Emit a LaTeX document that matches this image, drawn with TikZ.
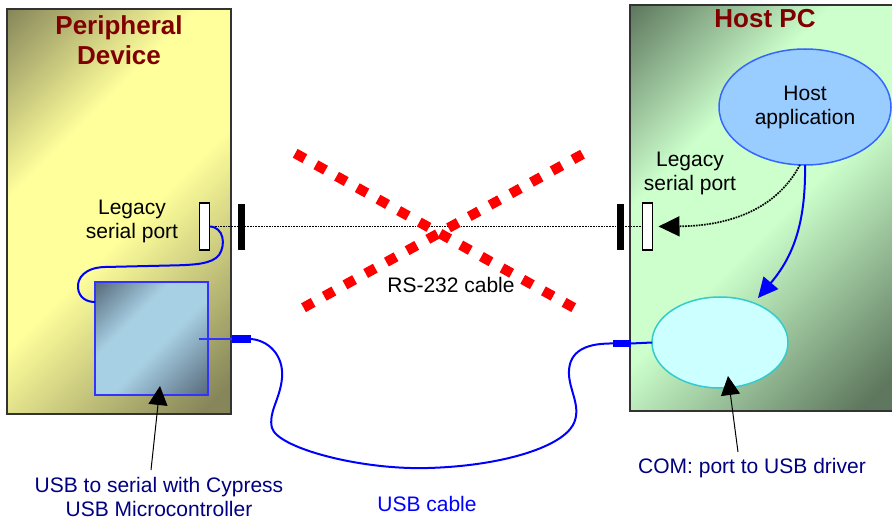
\documentclass[tikz,border=0pt]{standalone}
\usepackage{fontspec}
\setmainfont{Liberation Sans}
\usetikzlibrary{arrows.meta,shapes.geometric}

\definecolor{pdark}{HTML}{86865A}
\definecolor{plight}{HTML}{FFFF9C}
\definecolor{hdark}{HTML}{5E775E}
\definecolor{hlight}{HTML}{CCFFCC}
\definecolor{mdark}{HTML}{56697A}
\definecolor{mlight}{HTML}{A8D0E4}
\definecolor{titlered}{HTML}{800000}
\definecolor{navy}{HTML}{000080}
\definecolor{appfill}{HTML}{99CCFF}
\definecolor{appdraw}{HTML}{3366FF}
\definecolor{drvfill}{HTML}{CCFFFF}
\definecolor{drvdraw}{HTML}{33CCCC}
\definecolor{microdraw}{HTML}{3333FF}

\pgfdeclarehorizontalshading{periphsh}{100bp}{color(0bp)=(pdark); color(14.6bp)=(pdark); color(36bp)=(plight); color(53bp)=(plight); color(82bp)=(pdark); color(100bp)=(pdark)}
\pgfdeclarehorizontalshading{hostsh}{100bp}{color(0bp)=(hdark); color(14.6bp)=(hdark); color(36bp)=(hlight); color(53bp)=(hlight); color(82bp)=(hdark); color(100bp)=(hdark)}
\pgfdeclarehorizontalshading{microsh}{100bp}{color(0bp)=(mdark); color(14.6bp)=(mdark); color(38bp)=(mlight); color(55bp)=(mlight); color(85.4bp)=(mdark); color(100bp)=(mdark)}

\begin{document}
\begin{tikzpicture}[x=1pt,y=-1pt,
  every node/.style={inner sep=0pt, outer sep=0pt},
  normaltext/.style={font=\fontsize{21}{24}\selectfont, align=center},
  titletext/.style={font=\bfseries\fontsize{26}{30}\selectfont, align=center, text=titlered},
  portbox/.style={draw=black, fill=white, line width=1.3pt, minimum width=10pt, minimum height=47pt},
  blackbar/.style={fill=black, minimum width=7pt, minimum height=46pt},
  usbplug/.style={fill=blue, minimum width=19pt, minimum height=7.5pt},
  wire/.style={blue, line width=2pt},
  dotline/.style={densely dotted, line width=1.7pt},
  redx/.style={red, line width=10pt, dash pattern=on 11pt off 12.65pt},
  lblarrow/.style={-{Triangle[length=19pt,width=19pt]}, line width=1pt},
  boxborder/.style={draw=black!80, line width=1.5pt}
]
\useasboundingbox (0,0) rectangle (892,521);

% Peripheral device box
\node[shade, shading=periphsh, shading angle=-45, boxborder,
      minimum width=224pt, minimum height=405pt] (periph) at (119,211.5) {};
% Host PC box (open on the right)
\node[shade, shading=hostsh, shading angle=-45,
      minimum width=262pt, minimum height=406pt] (host) at (761,208) {};
\draw[boxborder] (host.north east) -- (host.north west) -- (host.south west) -- (host.south east);

% Microcontroller square
\node[shade, shading=microsh, shading angle=-45, draw=microdraw, line width=1.2pt,
      minimum width=113pt, minimum height=113pt] (micro) at (151.5,338.5) {};

% ports and bars
\node[portbox] (lport) at (204.5,226.5) {};
\node[portbox] (rport) at (647.5,226.5) {};
\draw[dotline] (lport.east) -- (rport.west);
\node[blackbar] (lbar) at (241,227) {};
\node[blackbar] (rbar) at (620.5,227) {};

% wire inside peripheral
\coordinate (mwire) at (95,302);
\draw[wire] (lport.east) .. controls (224,227) and (226,245) .. (219,255)
  .. controls (212,264) and (195,265) .. (170,265.5) -- (105,267)
  .. controls (85,267.5) and (77,278) .. (78,288)
  .. controls (79,298) and (87,302) .. (mwire);

% USB plugs and cable
\node[usbplug] (lplug) at (241,339) {};
\node[usbplug, minimum width=18pt, minimum height=7pt] (rplug) at (622,343.5) {};
\coordinate (lwire) at (199,339);
\draw[blue!80, line width=2pt] (lwire) -- (lplug.west);

% Ellipses
\node[ellipse, draw=appdraw, fill=appfill, line width=1.5pt, normaltext,
      minimum width=172pt, minimum height=116pt] (app) at (805,107) {Host\\application};
\node[ellipse, draw=drvdraw, fill=drvfill, line width=1.5pt,
      minimum width=136pt, minimum height=91pt] (drv) at (720,342.5) {};
\draw[wire] (rplug.east) -- (drv.west);

\draw[wire] (lplug.east) .. controls (268,340) and (284,355) .. (282,378)
  .. controls (280,400) and (268,412) .. (272,428)
  .. controls (278,448) and (360,470) .. (428,468)
  .. controls (500,466) and (560,448) .. (573,425)
  .. controls (582,408) and (570,392) .. (569,375)
  .. controls (568,355) and (580,343) .. (rplug.west);

% Red crossed-out X
\coordinate (xa1) at (295.2,153.3);
\coordinate (xa2) at (573.8,307.7);
\coordinate (xb1) at (303.5,307.7);
\coordinate (xb2) at (584.1,153.3);
\draw[redx] (xa1) -- (xa2);
\draw[redx] (xb1) -- (xb2);

% Arrows inside Host PC
\draw[dotline, -{Triangle[length=21pt,width=20pt]}, shorten >=6pt]
  (app.265) .. controls (775,212) and (725,226) .. (rport.east);
\coordinate (btip) at (758,298);
\draw[blue, line width=2pt, -{Triangle[length=20pt,width=19pt]}]
  (app.south) .. controls (806,225) and (792,258) .. (btip);

% Texts
\node[titletext] (ptitle) at (119,40.5) {Peripheral\\Device};
\node[titletext, anchor=base] (htitle) at (765,28) {Host PC};
\node[normaltext] (llegacy) at (132,221.7) {Legacy\\serial port};
\node[normaltext] (rlegacy) at (690,173.7) {Legacy\\serial port};
\node[normaltext, anchor=base] (rs) at (451,293) {RS-232 cable};
\node[normaltext, text=navy] (usblbl) at (159,497.4) {USB to serial with Cypress\\USB Microcontroller};
\node[normaltext, text=navy, anchor=base] (comlbl) at (752,473) {COM: port to USB driver};
\node[normaltext, text=blue, anchor=base] (cablelbl) at (427,511) {USB cable};

% label arrows
\coordinate (la1) at (151,470);
\coordinate (la2) at (160,386);
\coordinate (ra1) at (738,452);
\coordinate (ra2) at (728,376);
\draw[lblarrow] (la1) -- (la2);
\draw[lblarrow] (ra1) -- (ra2);
\end{tikzpicture}
\end{document}
